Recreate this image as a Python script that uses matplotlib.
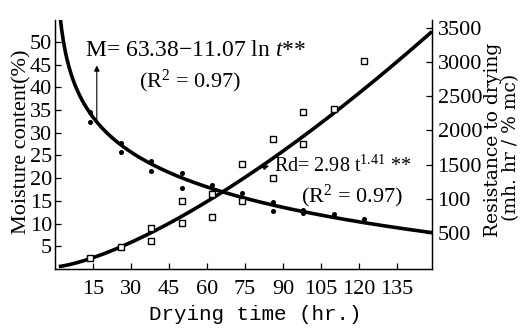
import numpy as np
import matplotlib
matplotlib.use("Agg")
import matplotlib.pyplot as plt
from matplotlib.ticker import FixedLocator, FixedFormatter

plt.rcParams["font.family"] = ["Liberation Serif", "DejaVu Serif"]
plt.rcParams["mathtext.fontset"] = "custom"
plt.rcParams["mathtext.rm"] = "Liberation Serif"
plt.rcParams["mathtext.it"] = "Liberation Serif:italic"

# Moisture content samples (%), two replicates per drying time
m_time = [14, 14, 26, 26, 38, 38, 50, 50, 62, 62, 74, 74, 86, 86, 98, 98, 110, 122]
m_value = [34.6, 32.4, 27.8, 25.8, 23.8, 21.6, 21.1, 17.8, 18.5, 17.0,
           16.7, 15.2, 14.8, 12.8, 13.0, 12.3, 12.1, 11.0]

# Resistance to drying samples (mh.hr/% mc)
rd_time = [14, 26, 38, 38, 50, 50, 62, 62, 74, 74, 86, 86, 98, 98, 110, 122]
rd_value = [132, 293, 571, 381, 966, 644, 1069, 732, 1508, 966,
            1874, 1303, 2269, 1801, 2313, 3016]

# Fitted models
m_a, m_b = 63.38, 11.07
rd_a, rd_b = 2.98, 1.41

x_ticks = [15, 30, 45, 60, 75, 90, 105, 120, 135]
left_ticks = [5, 10, 15, 20, 25, 30, 35, 40, 45, 50]
right_ticks = [500, 1000, 1500, 2000, 2500, 3000, 3500]
right_labels = ["500", "100", "1500", "2000", "2500", "3000", "3500"]

W, H = 521, 328
fig = plt.figure(figsize=(W / 100, H / 100), dpi=100)
ax = fig.add_axes([55 / W, 1 - 269 / H, (432 - 55) / W, (269 - 20) / H])
ax2 = ax.twinx()

fs = 16
for a in (ax, ax2):
    a.spines["top"].set_visible(False)
    for s in a.spines.values():
        s.set_linewidth(0.9)
    a.tick_params(direction="in", length=4, width=0.9, labelsize=fs)

ax.set_xlim(0, 148.8)
ax.set_ylim(0, 54.8)
ax2.set_ylim(-30, 3617)

ax.xaxis.set_major_locator(FixedLocator(x_ticks))
ax.yaxis.set_major_locator(FixedLocator(left_ticks))
ax2.yaxis.set_major_locator(FixedLocator(right_ticks))
ax2.yaxis.set_major_formatter(FixedFormatter(right_labels))
ax.tick_params(axis="x", pad=8)
ax.tick_params(axis="y", pad=2)
ax2.tick_params(axis="y", pad=4)

t = np.linspace(1.5, 148.8, 400)
ax.plot(t, m_a - m_b * np.log(t), color="black", lw=2.6, solid_capstyle="butt")
ax2.plot(t, rd_a * t ** rd_b, color="black", lw=2.6, solid_capstyle="butt")

ax.plot(m_time, m_value, "o", color="black", ms=2.6, ls="none")
ax2.plot(rd_time, rd_value, "s", mfc="white", mec="black", mew=1.0, ms=4.2, ls="none")

# Equation for moisture content, arrow from the curve
ax.text(12.0, 48.0, r"M= 63.38$-$11.07 ln $t$**", fontsize=17, va="center", ha="left")
ax.text(33, 41.2, r"(R$^{2}$ = 0.97)", fontsize=fs, va="center", ha="left")
t_m = 16.5
ax.annotate("", xy=(t_m, 44.8), xytext=(t_m, m_a - m_b * np.log(t_m)),
            arrowprops=dict(arrowstyle="-|>", color="black", lw=0.8,
                            mutation_scale=8, shrinkA=0, shrinkB=0))

# Equation for resistance to drying
ax2.text(86.5, 1480, r"Rd= 2.98 t$^{1.41}$ **", fontsize=14.5, va="center", ha="left")
ax2.text(97, 1040, r"(R$^{2}$ = 0.97)", fontsize=fs, va="center", ha="left")
t_r = 80
ax2.annotate("", xy=(84.5, 1480), xytext=(t_r, rd_a * t_r ** rd_b),
             arrowprops=dict(arrowstyle="-|>", color="black", lw=0.8,
                             mutation_scale=8, shrinkA=0, shrinkB=0))

fig.text(255 / W, 1 - 314 / H, "Drying time (hr.)", fontsize=15,
         family="Liberation Mono", ha="center", va="center")
fig.text(22 / W, 1 - 142 / H, "Moisture content(%)", fontsize=fs,
         rotation=90, ha="center", va="center")
fig.text(493 / W, 1 - 140 / H, "Resistance to drying", fontsize=13.5,
         family="DejaVu Serif", rotation=90, ha="center", va="center")
fig.text(511 / W, 1 - 147 / H, "(mh. hr / % mc)", fontsize=13.5,
         family="DejaVu Serif", rotation=90, ha="center", va="center")

fig.savefig("out.png", dpi=100)
